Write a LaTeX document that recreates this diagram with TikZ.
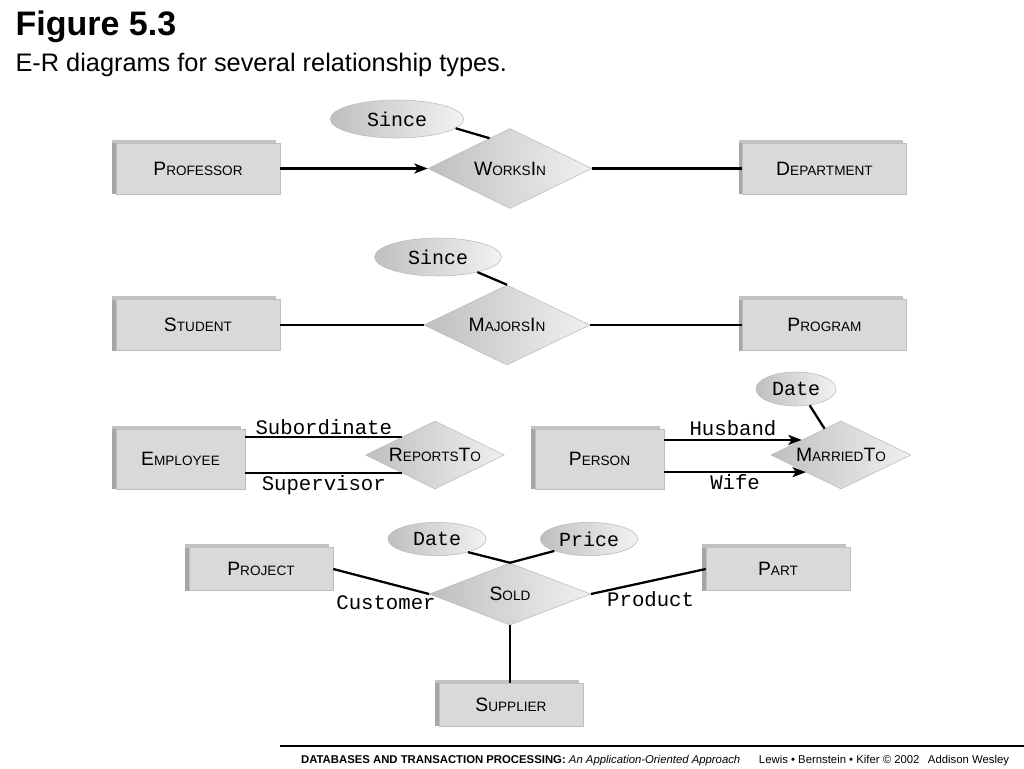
\documentclass[tikz,border=0pt]{standalone}
\usepackage{fontspec}
\setmainfont{Liberation Sans}
\newfontfamily\attrfont{Liberation Mono}
\usetikzlibrary{shapes.geometric,shadows,arrows.meta}

\newcommand{\ercap}[2]{{\fontsize{14.5}{16}\selectfont #1}{\fontsize{10.2}{12}\selectfont #2}}

\tikzset{
  entity/.style={rectangle, inner sep=0pt, fill=gray!30, draw=gray!50, line width=0.4pt,
    general shadow={fill=gray!48, shadow xshift=-3pt, shadow yshift=2.5pt},
    general shadow={fill=gray!70, shadow xshift=-3pt, shadow yshift=0pt}},
  bigent/.style={entity, minimum width=123pt, minimum height=38.25pt},
  mident/.style={entity, minimum width=96.75pt, minimum height=45pt},
  smallent/.style={entity, minimum width=108pt, minimum height=32.25pt},
  relship/.style={diamond, aspect=2, inner sep=0pt, draw=gray!55, line width=0.4pt,
    left color=gray!50, right color=gray!12},
  attr/.style={ellipse, inner sep=0pt, draw=gray!55, line width=0.4pt,
    left color=gray!50, right color=gray!10, font=\attrfont\fontsize{15}{17}\selectfont},
  role/.style={font=\attrfont\fontsize{15.5}{17}\selectfont, inner sep=1pt},
  arr/.style={-{Stealth[length=10pt,width=7.5pt,inset=2.5pt]}}
}

\begin{document}
\begin{tikzpicture}[x=0.75pt, y=-0.75pt, line width=1.7pt]
  \useasboundingbox (0,0) rectangle (1024,768);

  \node[anchor=base west, font=\bfseries\fontsize{25.5}{28}\selectfont] (title) at (10,35) {Figure 5.3};
  \node[anchor=base west, font=\fontsize{19}{22}\selectfont] (subtitle) at (10,71) {E-R diagrams for several relationship types.};

  \path  (198,168.5)   node[bigent](Prof)  {\ercap{P}{ROFESSOR}}
         (824.5,168.5) node[bigent](Dept)  {\ercap{D}{EPARTMENT}}
         (510,168.5)   node[relship, minimum width=123pt, minimum height=60pt](WorksIn) {\ercap{W}{ORKS}\ercap{I}{N}}
         (397,119)     node[attr, minimum width=100pt, minimum height=28.5pt](Since1) {Since};
  \draw [arr] (Prof) to (WorksIn);
  \draw [-] (WorksIn) to (Dept);
  \draw [-] (Since1.-9) to (WorksIn.124);

  \path  (198,325)     node[bigent](Stud)  {\ercap{S}{TUDENT}}
         (824.5,325)   node[bigent](Prog)  {\ercap{P}{ROGRAM}}
         (507,325)     node[relship, minimum width=124.5pt, minimum height=60pt](MajorsIn) {\ercap{M}{AJORS}\ercap{I}{N}}
         (438,257)     node[attr, minimum width=95pt, minimum height=28.5pt](Since2) {Since};
  \draw [-] (Stud) to (MajorsIn);
  \draw [-] (MajorsIn) to (Prog);
  \draw [-] (Since2.-21) to (MajorsIn.north);

  \path  (180.5,459)   node[mident](Emp)  {\ercap{E}{MPLOYEE}}
         (435,455)     node[relship, minimum width=104pt, minimum height=51pt](ReportsTo) {\ercap{R}{EPORTS}\ercap{T}{O}};
  \draw [-] (ReportsTo.151 -| Emp.east) to node [pos=0.5,above,role]{Subordinate} (ReportsTo.151);
  \draw [-] (ReportsTo.209 -| Emp.east) to node [pos=0.5,below,role]{Supervisor} (ReportsTo.209);

  \path  (599.5,459)   node[mident](Pers)  {\ercap{P}{ERSON}}
         (841,455)     node[relship, minimum width=105pt, minimum height=51pt](MarriedTo) {\ercap{M}{ARRIED}\ercap{T}{O}}
         (796,389)     node[attr, minimum width=60pt, minimum height=25.5pt](Date1) {Date};
  \draw [arr] (MarriedTo.159 -| Pers.east) to node [pos=0.5,above=1pt,role]{Husband} (MarriedTo.159);
  \draw [arr] (MarriedTo.206 -| Pers.east) to node [pos=0.5,below,role]{Wife} (MarriedTo.206);
  \draw [-] (Date1.-50) to (MarriedTo.122);

  \path  (261,569)     node[smallent](Proj)  {\ercap{P}{ROJECT}}
         (778,569)     node[smallent](Part)  {\ercap{P}{ART}}
         (511,704.5)   node[smallent](Supp)  {\ercap{S}{UPPLIER}}
         (510,594)     node[relship, minimum width=121pt, minimum height=46.5pt](Sold) {\ercap{S}{OLD}}
         (437,539)     node[attr, minimum width=73.5pt, minimum height=25pt](Date2) {Date}
         (589,539)     node[attr, minimum width=73pt, minimum height=25pt](Price) {Price};
  \draw [-] (Proj.east) to node [pos=0.55,below=8pt,role]{Customer} (Sold.west);
  \draw [-] (Part.west) to node [pos=0.48,below=6pt,role]{Product} (Sold.east);
  \draw [-] (Sold.south) to (Sold.south |- Supp.north);
  \draw [-] (Date2.-23) to (Sold.north);
  \draw [-] (Price.199) to (Sold.north);

  \draw [line width=0.8pt] (280,746) -- (1024,746);
  \node[anchor=base west, inner sep=0pt, font=\fontsize{8.5}{10}\selectfont] (footer) at (300,763)
    {\textbf{DATABASES AND TRANSACTION PROCESSING:} \textit{An Application-Oriented Approach}\hspace{14pt}Lewis • Bernstein • Kifer © 2002\hspace{4pt} Addison Wesley};
\end{tikzpicture}
\end{document}
